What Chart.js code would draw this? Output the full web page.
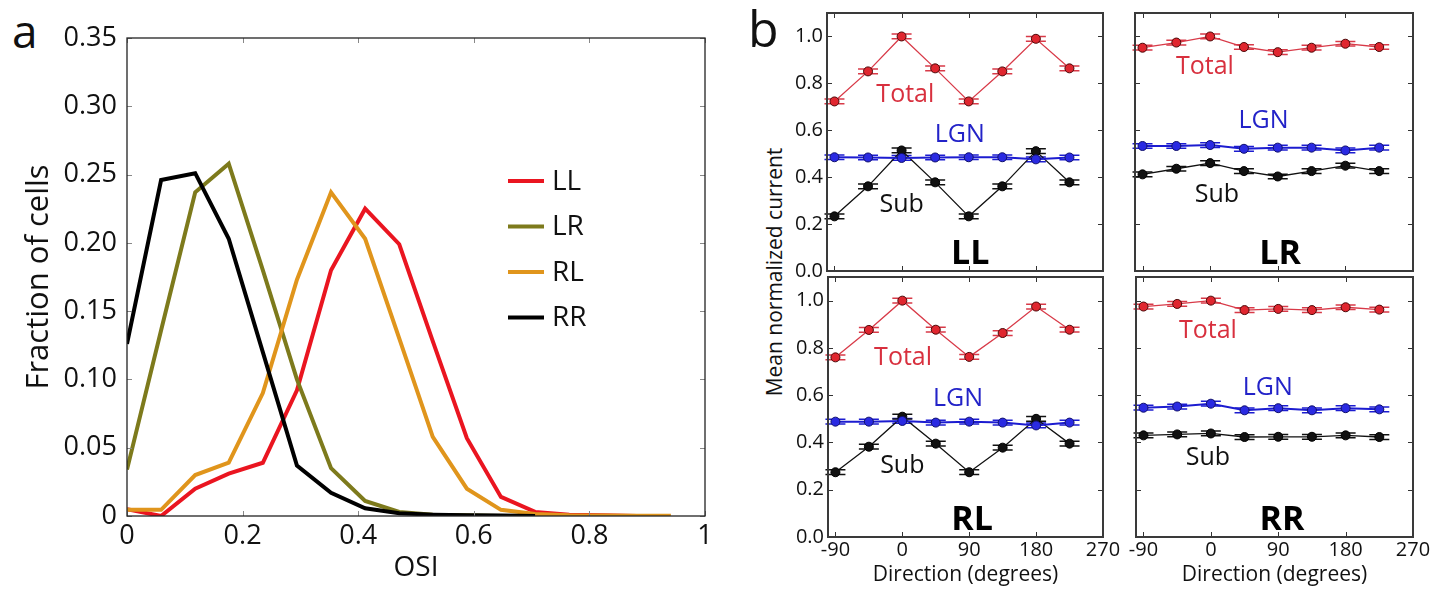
<!DOCTYPE html>
<html>
<head>
<meta charset="utf-8">
<script src="https://cdn.jsdelivr.net/npm/chart.js@4.4.1/dist/chart.umd.min.js"></script>
<style>
  html, body { margin: 0; padding: 0; background: #fff; }
  body { width: 1446px; height: 590px; position: relative; overflow: hidden; font-family: 'Open Sans', sans-serif; }
  canvas { position: absolute; }
  .lbl { position: absolute; line-height: 1; color: #111; white-space: nowrap; }
</style>
</head>
<body>
<div class="lbl" style="left:12px;top:7px;font-size:46px;">a</div>
<div class="lbl" style="left:748px;top:3px;font-size:50px;">b</div>
<div class="lbl" style="left:774px;top:272px;font-size:21px;transform:translate(-50%,-50%) rotate(-90deg);">Mean normalized current</div>

<canvas id="osiChart" width="730" height="590" style="left:0;top:0"></canvas>
<canvas id="cLL" width="383" height="300" style="left:740px;top:0"></canvas>
<canvas id="cLR" width="326" height="300" style="left:1120px;top:0"></canvas>
<canvas id="cRL" width="383" height="330" style="left:740px;top:260px"></canvas>
<canvas id="cRR" width="326" height="330" style="left:1120px;top:260px"></canvas>

<script>
// ---- panel a : OSI histograms ----
const osiBins = [0, 0.059, 0.118, 0.176, 0.235, 0.294, 0.353, 0.412, 0.471, 0.529, 0.588, 0.647, 0.706, 0.765, 0.824, 0.882, 0.941];
const osiLL = [0.005, 0.000, 0.020, 0.031, 0.039, 0.092, 0.180, 0.225, 0.199, 0.128, 0.057, 0.014, 0.003, 0.001, 0.0005, 0];
const osiLR = [0.034, 0.136, 0.237, 0.258, 0.180, 0.100, 0.035, 0.011, 0.003, 0.001, 0.0005, 0, 0];
const osiRL = [0.0045, 0.0045, 0.030, 0.039, 0.090, 0.173, 0.237, 0.203, 0.130, 0.058, 0.020, 0.0045, 0.0015, 0.0005, 0.0003, 0.0002, 0.0002];
const osiRR = [0.126, 0.246, 0.251, 0.203, 0.120, 0.037, 0.017, 0.0056, 0.002, 0.001, 0.0005, 0.0003, 0];
const osiTicks = [0, 0.2, 0.4, 0.6, 0.8, 1];
const fractionTicks = [0, 0.05, 0.1, 0.15, 0.2, 0.25, 0.3, 0.35];

// ---- panel b : direction tuning ----
const directions = [-90, -45, 0, 45, 90, 135, 180, 225];
const dirTicks = [-90, 0, 90, 180, 270];
const currentTicks = [0, 0.2, 0.4, 0.6, 0.8, 1.0];

const totalLL = [0.723, 0.851, 1.0, 0.864, 0.723, 0.851, 0.990, 0.864];
const lgnLL   = [0.485, 0.484, 0.482, 0.484, 0.485, 0.485, 0.476, 0.484];
const subLL   = [0.233, 0.361, 0.514, 0.378, 0.233, 0.361, 0.511, 0.378];

const totalLR = [0.952, 0.974, 1.0, 0.955, 0.933, 0.952, 0.969, 0.955];
const lgnLR   = [0.533, 0.533, 0.537, 0.521, 0.526, 0.526, 0.514, 0.526];
const subLR   = [0.412, 0.436, 0.460, 0.426, 0.403, 0.426, 0.449, 0.426];

const totalRL = [0.760, 0.876, 1.0, 0.877, 0.762, 0.863, 0.975, 0.877];
const lgnRL   = [0.488, 0.488, 0.491, 0.484, 0.488, 0.484, 0.472, 0.484];
const subRL   = [0.274, 0.382, 0.509, 0.395, 0.274, 0.378, 0.500, 0.395];

const totalRR = [0.975, 0.986, 1.0, 0.960, 0.965, 0.960, 0.972, 0.962];
const lgnRR   = [0.547, 0.552, 0.564, 0.536, 0.545, 0.536, 0.545, 0.540];
const subRR   = [0.430, 0.434, 0.438, 0.423, 0.424, 0.424, 0.430, 0.423];

const semErr = 0.01; // half length of the error bars

Chart.defaults.font.family = "'Open Sans', sans-serif";
Chart.defaults.color = '#111';
Chart.defaults.animation = false;

// frame round the plot area + ticks pointing inward (matplotlib look)
const framePlugin = {
    id: 'frame',
    afterDraw(chart, args, o) {
        const { ctx, chartArea: a, scales: { x, y } } = chart;
        ctx.save();
        ctx.strokeStyle = o.tickColor;
        ctx.lineWidth = 1;
        ctx.beginPath();
        o.xTicks.forEach(v => {
            const px = Math.round(x.getPixelForValue(v)) + 0.5;
            ctx.moveTo(px, a.bottom); ctx.lineTo(px, a.bottom - o.len);
            ctx.moveTo(px, a.top); ctx.lineTo(px, a.top + o.len);
        });
        o.yTicks.forEach(v => {
            const py = Math.round(y.getPixelForValue(v)) + 0.5;
            ctx.moveTo(a.left, py); ctx.lineTo(a.left + o.len, py);
            ctx.moveTo(a.right, py); ctx.lineTo(a.right - o.len, py);
        });
        ctx.stroke();
        ctx.strokeStyle = o.color;
        ctx.lineWidth = o.width;
        ctx.strokeRect(a.left, a.top, a.right - a.left, a.bottom - a.top);
        ctx.restore();
    }
};

// legend of panel a, drawn inside the plot
const osiLegend = {
    id: 'osiLegend',
    afterDatasetsDraw(chart, args, o) {
        const ctx = chart.ctx;
        ctx.save();
        ctx.font = o.size + "px 'Open Sans', sans-serif";
        ctx.textBaseline = 'middle';
        chart.data.datasets.forEach((ds, i) => {
            const yy = o.top + i * o.step;
            ctx.strokeStyle = ds.borderColor;
            ctx.lineWidth = 4;
            ctx.beginPath();
            ctx.moveTo(o.left, yy); ctx.lineTo(o.left + o.lineLen, yy);
            ctx.stroke();
            ctx.fillStyle = '#111';
            ctx.fillText(ds.label, o.left + o.lineLen + 8, yy + 1);
        });
        ctx.restore();
    }
};

// error bars with caps
const errorBars = {
    id: 'errorBars',
    beforeDatasetsDraw(chart) {
        const { ctx, scales: { y } } = chart;
        ctx.save();
        chart.data.datasets.forEach((ds, di) => {
            const meta = chart.getDatasetMeta(di);
            ctx.strokeStyle = ds.borderColor;
            ctx.lineWidth = 1.5;
            meta.data.forEach((pt, i) => {
                const v = ds.data[i].y;
                const y1 = y.getPixelForValue(v + semErr), y2 = y.getPixelForValue(v - semErr);
                ctx.beginPath();
                ctx.moveTo(pt.x, y1); ctx.lineTo(pt.x, y2);
                ctx.moveTo(pt.x - 10, y1); ctx.lineTo(pt.x + 10, y1);
                ctx.moveTo(pt.x - 10, y2); ctx.lineTo(pt.x + 10, y2);
                ctx.stroke();
            });
        });
        ctx.restore();
    }
};

// text labels placed in data coordinates
const notes = {
    id: 'notes',
    afterDatasetsDraw(chart, args, o) {
        const { ctx, scales: { x, y } } = chart;
        ctx.save();
        ctx.textAlign = 'center';
        ctx.textBaseline = 'alphabetic';
        o.items.forEach(it => {
            ctx.font = (it.bold ? 'bold ' : '') + it.size + "px 'Open Sans', sans-serif";
            ctx.fillStyle = it.color;
            ctx.fillText(it.text, x.getPixelForValue(it.x), y.getPixelForValue(it.y));
        });
        ctx.restore();
    }
};

// 1. panel a
const pts = vals => vals.map((v, i) => ({ x: osiBins[i], y: v }));
new Chart(document.getElementById('osiChart'), {
    type: 'line',
    data: {
        datasets: [
            { label: 'LL', data: pts(osiLL), borderColor: '#ea1520', borderWidth: 4, pointRadius: 0, order: 4 },
            { label: 'LR', data: pts(osiLR), borderColor: '#7d7a1c', borderWidth: 4, pointRadius: 0, order: 3 },
            { label: 'RL', data: pts(osiRL), borderColor: '#e0951c', borderWidth: 4, pointRadius: 0, order: 2 },
            { label: 'RR', data: pts(osiRR), borderColor: '#000000', borderWidth: 4, pointRadius: 0, order: 1 }
        ]
    },
    options: {
        responsive: false,
        events: [],
        layout: { padding: { left: 0, right: 25, top: 38, bottom: 0 } },
        plugins: {
            legend: { display: false },
            tooltip: { enabled: false },
            frame: { xTicks: osiTicks, yTicks: fractionTicks, len: 5, tickColor: '#888', color: '#222', width: 1.3 },
            osiLegend: { left: 508, top: 181, step: 45.5, lineLen: 36, size: 28 }
        },
        scales: {
            x: {
                type: 'linear', min: 0, max: 1,
                grid: { display: false, drawTicks: false }, border: { display: false },
                afterBuildTicks: s => { s.ticks = osiTicks.map(v => ({ value: v })); },
                afterFit: s => { s.height = 74; s.paddingLeft = 0; s.paddingRight = 0; },
                ticks: { padding: 4, autoSkip: false, maxRotation: 0, font: { size: 27 }, callback: v => String(v) },
                title: { display: true, text: 'OSI', font: { size: 28 }, padding: { top: 0, bottom: 5 } }
            },
            y: {
                min: 0, max: 0.35,
                grid: { display: false, drawTicks: false }, border: { display: false },
                afterBuildTicks: s => { s.ticks = fractionTicks.map(v => ({ value: v })); },
                afterFit: s => { s.width = 127; s.paddingTop = 0; s.paddingBottom = 0; },
                ticks: { padding: 10, autoSkip: false, font: { size: 27 }, callback: v => v === 0 ? '0' : v.toFixed(2) },
                title: { display: true, text: 'Fraction of cells', font: { size: 31 }, padding: { top: 21, bottom: 0 } }
            }
        }
    },
    plugins: [framePlugin, osiLegend]
});

// 2. panel b, one small chart per group
function currentChart(id, total, lgn, sub, opt) {
    const xy = vals => vals.map((v, i) => ({ x: directions[i], y: v }));
    new Chart(document.getElementById(id), {
        type: 'line',
        data: {
            datasets: [
                { label: 'Total', data: xy(total), borderColor: '#d83a48', borderWidth: 1.3,
                  pointRadius: 4.5, pointBackgroundColor: '#e0262f', pointBorderColor: '#4a0808', pointBorderWidth: 1 },
                { label: 'LGN', data: xy(lgn), borderColor: '#1c1cd0', borderWidth: 2,
                  pointRadius: 4.5, pointBackgroundColor: '#2a2ae2', pointBorderColor: '#10106a', pointBorderWidth: 1 },
                { label: 'Sub', data: xy(sub), borderColor: '#111111', borderWidth: 1.3,
                  pointRadius: 4.5, pointBackgroundColor: '#111111', pointBorderColor: '#000000', pointBorderWidth: 1 }
            ]
        },
        options: {
            responsive: false,
            events: [],
            layout: { padding: opt.padding },
            plugins: {
                legend: { display: false },
                tooltip: { enabled: false },
                frame: { xTicks: dirTicks, yTicks: currentTicks, len: 5, tickColor: '#333', color: '#3a3a3a', width: 2 },
                notes: { items: opt.notes }
            },
            scales: {
                x: {
                    type: 'linear', min: -100, max: 270, display: opt.showX,
                    grid: { display: false, drawTicks: false }, border: { display: false },
                    afterBuildTicks: s => { s.ticks = dirTicks.map(v => ({ value: v })); },
                    afterFit: s => { s.height = opt.showX ? 53 : 0; s.paddingLeft = 0; s.paddingRight = 0; },
                    ticks: { padding: 1, autoSkip: false, maxRotation: 0, font: { size: 20 }, callback: v => String(v) },
                    title: { display: true, text: 'Direction (degrees)', font: { size: 21 }, padding: { top: 0, bottom: 2 } }
                },
                y: {
                    min: 0, max: 1.1, display: opt.showY,
                    grid: { display: false, drawTicks: false }, border: { display: false },
                    afterBuildTicks: s => { s.ticks = currentTicks.map(v => ({ value: v })); },
                    afterFit: s => { s.width = opt.showY ? opt.yWidth : 0; s.paddingTop = 0; s.paddingBottom = 0; },
                    ticks: { padding: 4, autoSkip: false, font: { size: 20 }, callback: v => v.toFixed(1) }
                }
            }
        },
        plugins: [framePlugin, errorBars, notes]
    });
}

const red = '#d8303e', blue = '#2323c8', black = '#111';
const noteSet = (name, t, l, s, n) => [
    { text: 'Total', x: t[0], y: t[1], color: red, size: 25 },
    { text: 'LGN', x: l[0], y: l[1], color: blue, size: 25 },
    { text: 'Sub', x: s[0], y: s[1], color: black, size: 25 },
    { text: name, x: n[0], y: n[1], color: '#000', size: 34, bold: true }
];

currentChart('cLL', totalLL, lgnLL, subLL, {
    showX: false, showY: true, yWidth: 87,
    padding: { left: 0, right: 20, top: 13, bottom: 29 },
    notes: noteSet('LL', [5, 0.72], [78, 0.55], [0, 0.251], [92, 0.031])
});
currentChart('cLR', totalLR, lgnLR, subLR, {
    showX: false, showY: false,
    padding: { left: 15, right: 33, top: 13, bottom: 29 },
    notes: noteSet('LR', [-7, 0.841], [71, 0.611], [9, 0.294], [93, 0.031])
});
currentChart('cRL', totalRL, lgnRL, subRL, {
    showX: true, showY: true, yWidth: 88,
    padding: { left: 0, right: 20, top: 17, bottom: 0 },
    notes: noteSet('RL', [1, 0.727], [75, 0.554], [0, 0.272], [94, 0.028])
});
currentChart('cRR', totalRR, lgnRR, subRR, {
    showX: true, showY: false,
    padding: { left: 16, right: 33, top: 17, bottom: 0 },
    notes: noteSet('RR', [-4, 0.844], [76, 0.601], [-4, 0.304], [95, 0.028])
});
</script>
</body>
</html>
